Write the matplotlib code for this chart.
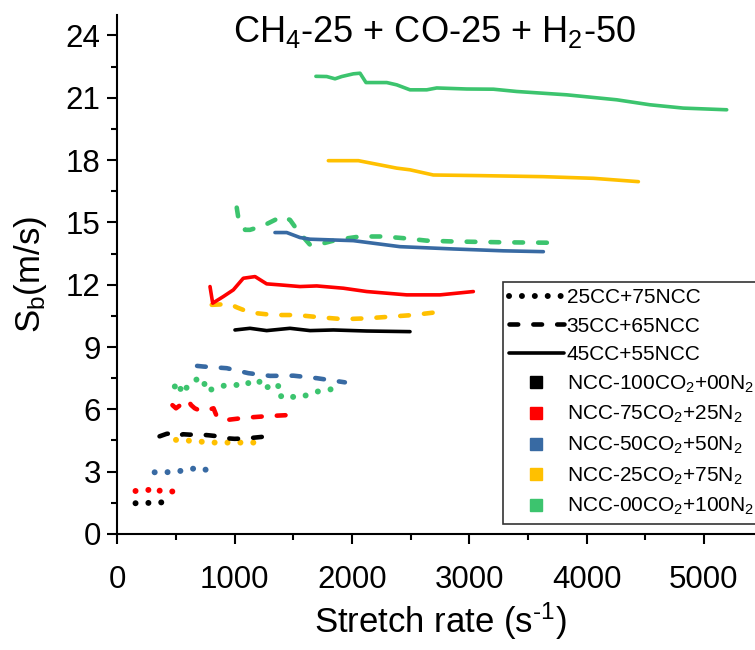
import matplotlib
matplotlib.use("Agg")
import matplotlib.pyplot as plt
from matplotlib.lines import Line2D

plt.rcParams['font.family'] = ['Liberation Sans', 'DejaVu Sans']
plt.rcParams['mathtext.fontset'] = 'custom'
plt.rcParams['mathtext.rm'] = 'Liberation Sans'
plt.rcParams['mathtext.it'] = 'Liberation Sans:italic'
plt.rcParams['mathtext.bf'] = 'Liberation Sans:bold'

# ---- colours per diluent mixture ----
c_black = '#000000'
c_red = '#FF0000'
c_blue = '#386AA3'
c_orange = '#FFC000'
c_green = '#3CC46E'

# ---- 45CC+55NCC (solid) ----
x_45_k = [1003, 1131, 1273, 1472, 1643, 1842, 2126, 2495]
y_45_k = [9.82, 9.90, 9.79, 9.90, 9.79, 9.82, 9.77, 9.74]

x_45_r = [790, 813, 904, 989, 1074, 1174, 1273, 1387, 1557, 1700, 1927, 2126, 2467, 2751, 3035]
y_45_r = [11.91, 11.11, 11.43, 11.75, 12.31, 12.39, 12.04, 11.99, 11.91, 11.94, 11.83, 11.67, 11.51, 11.51, 11.67]

x_45_b = [1344, 1444, 1557, 1643, 2012, 2410, 2864, 3291, 3632]
y_45_b = [14.51, 14.51, 14.27, 14.19, 14.12, 13.83, 13.72, 13.63, 13.59]

x_45_o = [1799, 2055, 2382, 2495, 2694, 3092, 3632, 4058, 4442]
y_45_o = [17.97, 17.97, 17.61, 17.53, 17.28, 17.25, 17.20, 17.12, 16.96]

x_45_g = [1693, 1785, 1856, 1913, 2012, 2069, 2120, 2297, 2382, 2495, 2638, 2723, 2979, 3206,
          3405, 3831, 4258, 4541, 4825, 5195]
y_45_g = [22.03, 22.02, 21.91, 22.02, 22.15, 22.18, 21.73, 21.73, 21.62, 21.38, 21.38, 21.47, 21.42,
          21.41, 21.30, 21.14, 20.90, 20.66, 20.50, 20.42]

# ---- 35CC+65NCC (dashed) ----
x_35_k = [360, 420, 470, 520, 560, 620, 680, 780, 830, 900, 1000, 1100, 1245]
y_35_k = [4.70, 4.82, 4.85, 4.72, 4.80, 4.78, 4.80, 4.75, 4.72, 4.62, 4.58, 4.60, 4.68]

x_35_r = [470, 500, 560, 600, 630, 660, 700, 760, 820, 845, 900, 950, 1100, 1300, 1450, 1555]
y_35_r = [6.20, 6.05, 6.30, 6.45, 6.20, 6.05, 5.95, 5.95, 6.05, 5.70, 5.50, 5.50, 5.60, 5.68, 5.72, 5.82]

x_35_b = [680, 733, 933, 1117, 1302, 1501, 1700, 1940]
y_35_b = [8.09, 8.06, 7.98, 7.74, 7.61, 7.62, 7.50, 7.30]

x_35_o = [805, 961, 1018, 1131, 1330, 1529, 1728, 1927, 2126, 2325, 2523, 2760]
y_35_o = [11.03, 11.07, 10.91, 10.66, 10.54, 10.54, 10.43, 10.34, 10.38, 10.46, 10.54, 10.70]

x_35_g = [1018, 1032, 1089, 1131, 1245, 1401, 1472, 1543, 1643, 1728, 1870, 2069, 2268, 2438,
          2638, 2864, 3291, 3683]
y_35_g = [15.71, 15.20, 14.64, 14.64, 14.84, 15.28, 15.12, 14.56, 13.92, 13.95, 14.16, 14.32, 14.32,
          14.24, 14.12, 14.08, 14.04, 14.02]

# ---- 25CC+75NCC (dotted) ----
x_25_k = [155, 230, 301, 410]
y_25_k = [1.48, 1.51, 1.48, 1.54]

x_25_r = [155, 194, 265, 301, 378, 463, 569]
y_25_r = [2.07, 2.07, 2.12, 1.96, 2.12, 2.04, 2.15]

x_25_b = [318, 407, 506, 605, 705, 800]
y_25_b = [2.97, 2.97, 3.00, 3.11, 3.19, 3.00]

x_25_o = [500, 614, 720, 833, 938, 1046, 1160]
y_25_o = [4.53, 4.49, 4.44, 4.40, 4.40, 4.40, 4.40]

x_25_g = [490, 530, 545, 615, 705, 740, 750, 815, 910, 1000, 1095, 1150, 1240, 1275, 1370,
          1380, 1445, 1515, 1625, 1730, 1830]
y_25_g = [7.10, 7.30, 6.75, 7.20, 7.55, 7.35, 6.90, 6.97, 7.14, 7.14, 7.34, 7.14, 7.41, 7.06, 7.22,
          6.60, 6.73, 6.56, 6.69, 6.90, 6.97]

series_labels = ['25CC+75NCC', '35CC+65NCC', '45CC+55NCC']
mixture_labels = [r'NCC-100CO$_\mathregular{2}$+00N$_\mathregular{2}$',
                  r'NCC-75CO$_\mathregular{2}$+25N$_\mathregular{2}$',
                  r'NCC-50CO$_\mathregular{2}$+50N$_\mathregular{2}$',
                  r'NCC-25CO$_\mathregular{2}$+75N$_\mathregular{2}$',
                  r'NCC-00CO$_\mathregular{2}$+100N$_\mathregular{2}$']
mixture_colors = [c_black, c_red, c_blue, c_orange, c_green]

solid_kw = dict(ls='-', lw=2.6, solid_capstyle='round', solid_joinstyle='round')
dash_kw = dict(ls=(0, (1.9, 3.3)), lw=3.3, dash_capstyle='round')
dot_kw = dict(ls=(0, (0.01, 2.15)), lw=4.3, dash_capstyle='round')

fig = plt.figure(figsize=(7.55, 6.5), dpi=100)
ax = fig.add_axes([0.1554, 0.1785, 0.8545, 0.799])

solid_sets = [(x_45_k, y_45_k), (x_45_r, y_45_r), (x_45_b, y_45_b), (x_45_o, y_45_o), (x_45_g, y_45_g)]
dash_sets = [(x_35_k, y_35_k), (x_35_r, y_35_r), (x_35_b, y_35_b), (x_35_o, y_35_o), (x_35_g, y_35_g)]
dot_sets = [(x_25_k, y_25_k), (x_25_r, y_25_r), (x_25_b, y_25_b), (x_25_o, y_25_o), (x_25_g, y_25_g)]

for (xs, ys), c in zip(dot_sets, mixture_colors):
    ax.plot(xs, ys, color=c, **dot_kw)
for (xs, ys), c in zip(dash_sets, mixture_colors):
    ax.plot(xs, ys, color=c, **dash_kw)
for (xs, ys), c in zip(solid_sets, mixture_colors):
    ax.plot(xs, ys, color=c, **solid_kw)

ax.set_xlim(0, 5500)
ax.set_ylim(0, 25)
ax.set_xticks([0, 1000, 2000, 3000, 4000, 5000])
ax.set_xticks(range(500, 5500, 1000), minor=True)
ax.set_yticks(range(0, 25, 3))
ax.set_yticks([1.5 + 3 * i for i in range(8)], minor=True)

for side in ['top', 'right']:
    ax.spines[side].set_visible(False)
for side in ['left', 'bottom']:
    ax.spines[side].set_linewidth(1.5)

ax.tick_params(which='major', direction='out', length=7, width=1.5, labelsize=22.5)
ax.tick_params(axis='y', which='major', pad=5)
ax.tick_params(axis='x', which='major', pad=15)
ax.tick_params(which='minor', direction='out', length=4, width=1.5)

ax.set_xlabel(r'Stretch rate (s$^\text{-1}$)', fontsize=25, labelpad=4)
ax.set_ylabel(r'S$_\mathregular{b}$(m/s)', fontsize=25, labelpad=12)

ax.text(0.492, 0.947, r'CH$_\mathregular{4}$-25 + CO-25 + H$_\mathregular{2}$-50',
        transform=ax.transAxes, ha='center', va='baseline', fontsize=26)

handles = [Line2D([], [], color='k', **dot_kw),
           Line2D([], [], color='k', **dash_kw),
           Line2D([], [], color='k', **solid_kw)]
handles += [Line2D([], [], ls='none', marker='s', markersize=8.5, color=c) for c in mixture_colors]
labels = series_labels + mixture_labels

leg = ax.legend(handles, labels, loc='upper left', bbox_to_anchor=(0.598, 0.485),
                borderaxespad=0, fontsize=15, frameon=True, fancybox=False,
                edgecolor='black', handlelength=2.6, handletextpad=0.15,
                borderpad=0.3, labelspacing=0.45)
leg.get_frame().set_linewidth(1.2)

fig.savefig('out.png', dpi=100)
